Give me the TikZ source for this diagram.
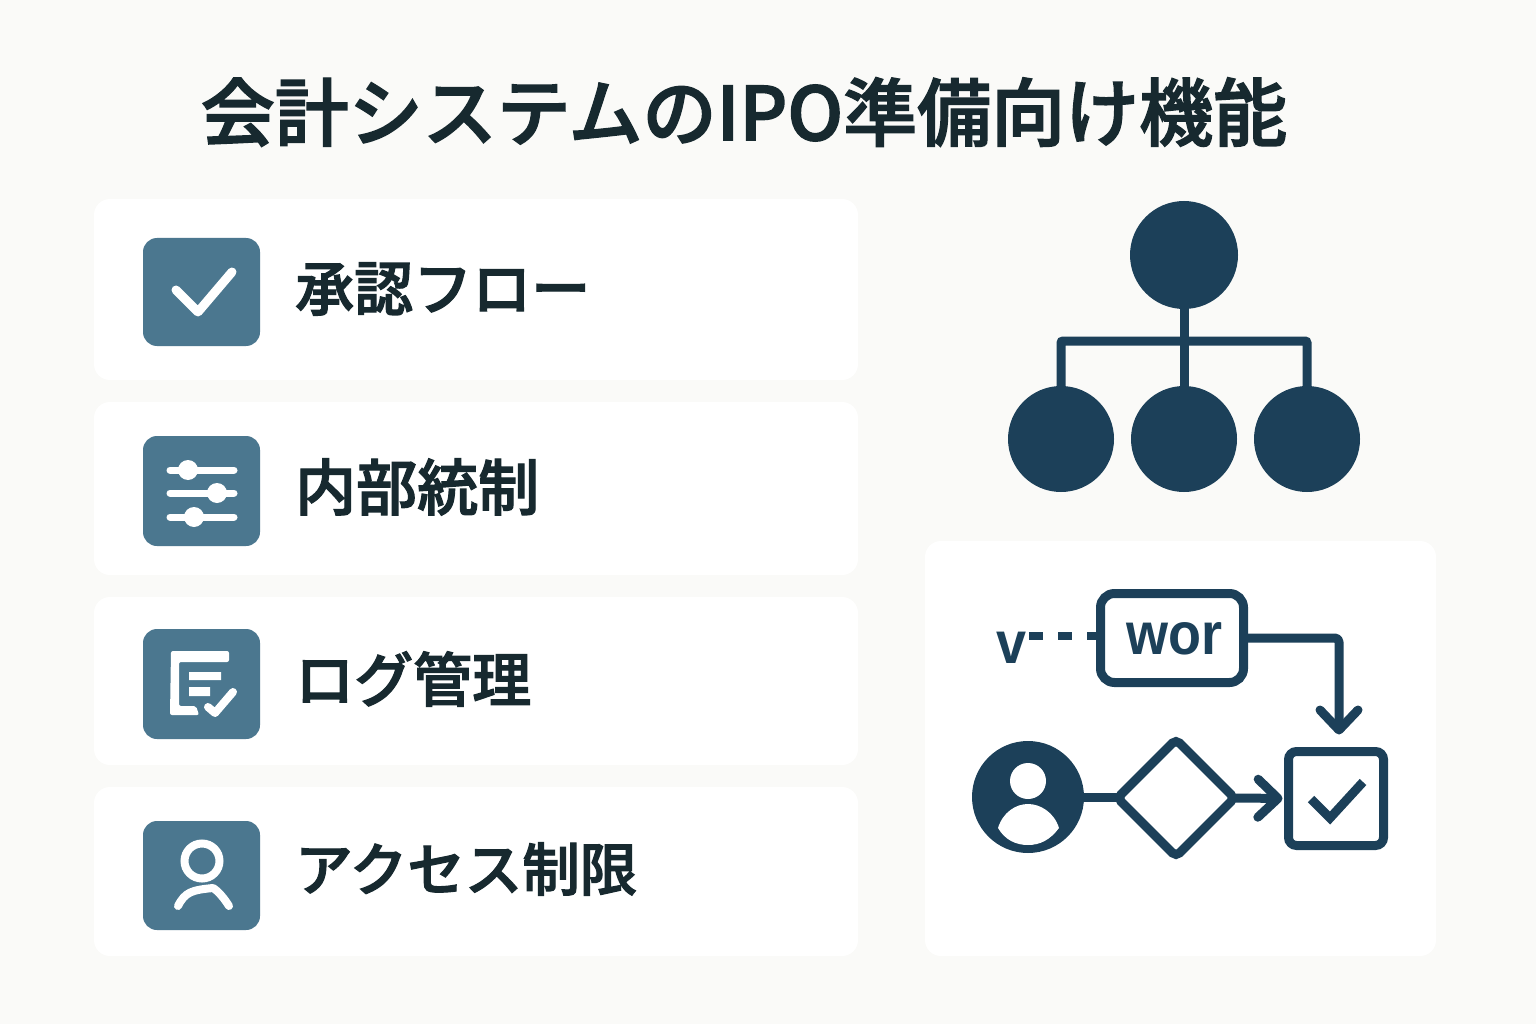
\documentclass[tikz,border=0pt]{standalone}
\usepackage{fontspec}
\usetikzlibrary{shapes.geometric,arrows.meta}
\newfontfamily\cjk[FakeBold=2]{Noto Sans CJK JP Medium}
\newfontfamily\latinb{Liberation Sans}
\definecolor{bgc}{HTML}{FAFAF8}
\definecolor{navy}{HTML}{1C4059}
\definecolor{ink}{HTML}{17292F}
\definecolor{tile}{HTML}{4B778F}
\tikzset{
  x=1pt,y=-1pt,
  card/.style={fill=white,draw=none,rounded corners=16pt},
  tilebox/.style={fill=tile,draw=none,rounded corners=14pt},
  lab/.style={anchor=west,inner sep=0pt,text=ink,font=\cjk\fontsize{59}{60}\selectfont},
  wstroke/.style={draw=white,line width=#1,line cap=round,line join=round},
  orgnode/.style={circle,fill=navy,draw=none,inner sep=0pt,minimum size=#1},
  orgline/.style={draw=navy,line width=9pt},
  flow/.style={draw=navy,line width=9pt,line join=round},
  chev/.style={-{Straight Barb[length=20pt,width=38pt,line width=9pt,round]}},
  flowtext/.style={inner sep=0pt,text=navy,font=\latinb\bfseries\fontsize{54}{60}\selectfont},
}
\begin{document}
\begin{tikzpicture}
\useasboundingbox (0,0) rectangle (1536,1024);
\fill[bgc] (0,0) rectangle (1536,1024);
\node[inner sep=0pt,text=ink,font=\cjk\fontsize{74}{80}\selectfont] (title) at (744,112) {会計システムのIPO準備向け機能};
% cards
\fill[card] (94,199) rectangle (858,380);
\fill[card] (94,402) rectangle (858,575);
\fill[card] (94,597) rectangle (858,765);
\fill[card] (94,787) rectangle (858,956);
\fill[card] (925,541) rectangle (1436,956);
% tiles
\fill[tilebox] (143,238) rectangle (260,346);
\fill[tilebox] (143,436) rectangle (260,546);
\fill[tilebox] (143,629) rectangle (260,739);
\fill[tilebox] (143,821) rectangle (260,930);
% icon 1
\draw[wstroke=9pt] (176,290) -- (198,312) -- (232,272);
% icon 2
\draw[wstroke=7pt] (170,470) -- (234,470) (170,493) -- (234,493) (170,517) -- (234,517);
\fill[white] (188,470) circle[radius=10] (217,493) circle[radius=10] (194,517) circle[radius=10];
% icon 3
\fill[white,rounded corners=2pt] (229,651) -- (171,651) -- (170,715) -- (199,715) -- (196,706) -- (179,706) -- (179,662) -- (229,662) -- cycle;
\fill[white] (189,672) rectangle (221,680) (189,687) rectangle (210,696);
\draw[wstroke=8pt] (208,707) -- (215,713) -- (233,692);
% icon 4
\draw[white,line width=8pt] (202,861) circle[radius=17.5];
\draw[wstroke=8pt] (178,906) .. controls (185,892) and (192,890) .. (213,888) .. controls (218,891) and (224,898) .. (229,906);
% labels
\node[lab] (l1) at (295,289) {承認フロー};
\node[lab,font=\cjk\fontsize{61}{62}\selectfont] (l2) at (295,487) {内部統制};
\node[lab] (l3) at (295,679) {ログ管理};
\node[lab,font=\cjk\fontsize{57.5}{60}\selectfont] (l4) at (295,869) {アクセス制限};
% org chart
\node[orgnode=108pt] (root) at (1184,255) {};
\node[orgnode=106pt] (c1) at (1061,439) {};
\node[orgnode=106pt] (c2) at (1184,439) {};
\node[orgnode=106pt] (c3) at (1307,439) {};
\coordinate (bus) at (1184,341);
\draw[orgline] (root.south) -- (c2.north);
\draw[orgline,rounded corners=2pt] (c1.north) |- (bus) -| (c3.north);
% flow
\node[draw=navy,line width=9pt,rounded corners=14pt,minimum width=143pt,minimum height=89pt,inner sep=0pt,outer sep=0pt] (wor) at (1172,638) {};
\node[flowtext] (wortext) at (1174,639) {\scalebox{1}[1.1]{wor}};
\node[flowtext,anchor=base west] (vv) at (996,663) {\scalebox{1}[1.1]{v}};
\coordinate (vend) at (1025,636);
\draw[navy,line width=8pt,dash pattern=on 14pt off 15pt] (wor.west |- vend) -- (vend);
\node[rounded corners=8pt,draw=navy,line width=9pt,minimum width=95pt,minimum height=94pt,inner sep=0pt,outer sep=0pt] (check) at (1336,798.5) {};
\draw[navy,line width=9pt] (1311,799) -- (1330,818) -- (1363,782);
\node[circle,fill=navy,inner sep=0pt,minimum size=112pt,outer sep=0pt] (user) at (1028,797) {};
\fill[white] (1028,781) circle[radius=18];
\fill[white] (998,828) .. controls (1003,812) and (1016,804) .. (1028,804) .. controls (1040,804) and (1054,812) .. (1059,828) .. controls (1050,840) and (1040,845) .. (1028,845) .. controls (1016,845) and (1005,840) .. (998,828) -- cycle;
\node[diamond,draw=navy,line width=9pt,rounded corners=5pt,minimum width=117pt,minimum height=117pt,inner sep=0pt,outer sep=0pt] (dec) at (1176,798) {};
\draw[flow] (user.east) -- (dec.west |- user.east);
\draw[flow,chev,shorten >=6pt] (dec.east) -- (check.west);
\coordinate (corner) at (1339,638);
\draw[flow,chev,rounded corners=4pt,shorten >=17pt] (wor.east) -- (corner) -- (corner |- check.north);
\end{tikzpicture}
\end{document}
